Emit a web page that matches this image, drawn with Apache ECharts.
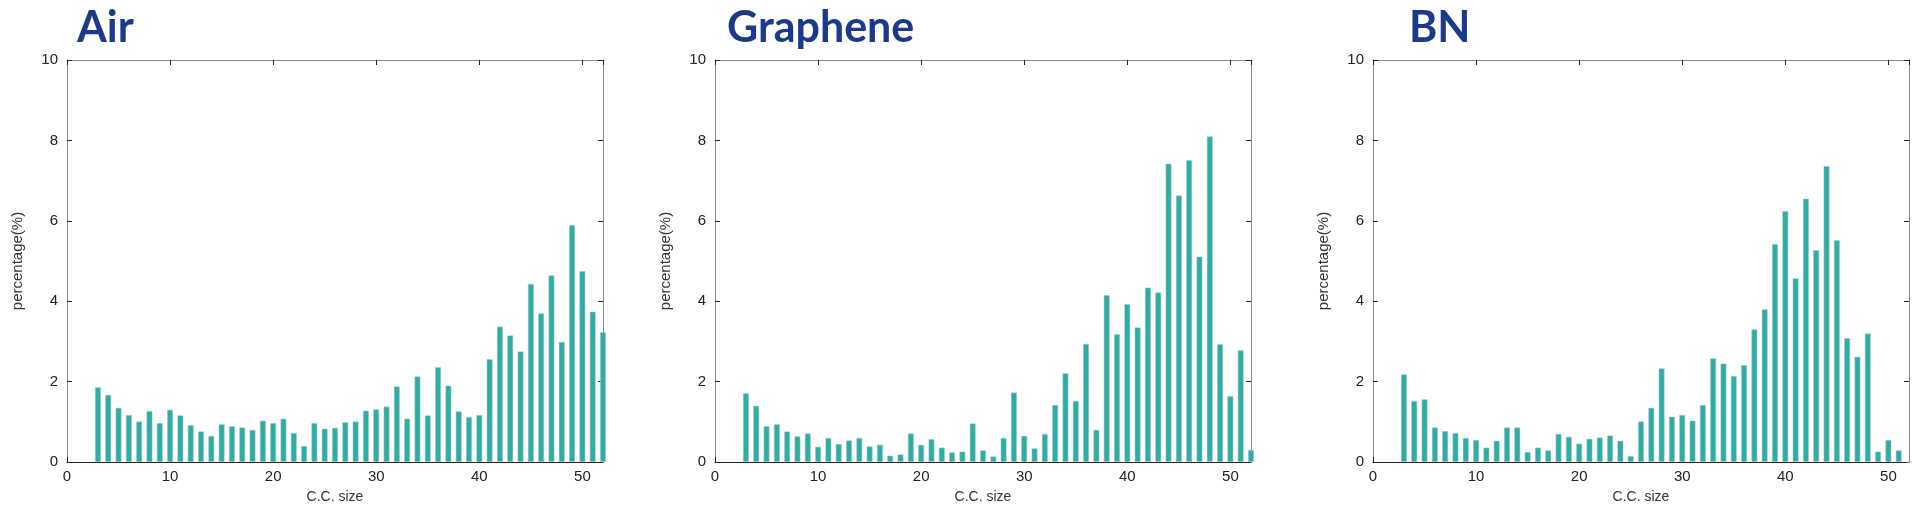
<!DOCTYPE html>
<html>
<head>
<meta charset="utf-8">
<script src="https://cdn.jsdelivr.net/npm/echarts@6/dist/echarts.min.js"></script>
<style>
  html, body { margin: 0; padding: 0; background: #fff; }
  #main { width: 1920px; height: 509px; }
</style>
</head>
<body>
<div id="main"></div>
<script>
// C.C. size categories
var sizes = [3, 4, 5, 6, 7, 8, 9, 10, 11, 12, 13, 14, 15, 16, 17, 18, 19, 20, 21, 22,
  23, 24, 25, 26, 27, 28, 29, 30, 31, 32, 33, 34, 35, 36, 37, 38, 39, 40, 41, 42,
  43, 44, 45, 46, 47, 48, 49, 50, 51, 52];

var airData = [1.86, 1.67, 1.35, 1.17, 1.01, 1.27, 0.97, 1.30, 1.16, 0.92,
  0.76, 0.65, 0.94, 0.89, 0.86, 0.80, 1.03, 0.97, 1.08, 0.72,
  0.40, 0.97, 0.83, 0.85, 0.99, 1.01, 1.28, 1.31, 1.38, 1.88,
  1.08, 2.13, 1.16, 2.36, 1.90, 1.26, 1.12, 1.17, 2.56, 3.37,
  3.15, 2.75, 4.43, 3.70, 4.64, 2.99, 5.89, 4.75, 3.74, 3.23];

var grapheneData = [1.71, 1.40, 0.89, 0.94, 0.76, 0.64, 0.71, 0.38, 0.60, 0.45,
  0.54, 0.60, 0.39, 0.43, 0.16, 0.19, 0.71, 0.43, 0.57, 0.36,
  0.24, 0.26, 0.96, 0.29, 0.14, 0.60, 1.73, 0.65, 0.34, 0.70,
  1.42, 2.21, 1.52, 2.94, 0.80, 4.15, 3.18, 3.93, 3.35, 4.34,
  4.22, 7.42, 6.63, 7.51, 5.11, 8.10, 2.93, 1.64, 2.78, 0.30];

var bnData = [2.18, 1.52, 1.56, 0.86, 0.77, 0.72, 0.60, 0.55, 0.36, 0.53,
  0.86, 0.86, 0.25, 0.36, 0.29, 0.70, 0.63, 0.46, 0.58, 0.61,
  0.66, 0.53, 0.15, 1.01, 1.35, 2.33, 1.13, 1.17, 1.03, 1.42,
  2.58, 2.45, 2.14, 2.41, 3.30, 3.80, 5.42, 6.24, 4.57, 6.55,
  5.27, 7.36, 5.52, 3.08, 2.62, 3.20, 0.26, 0.55, 0.29, 0];

var panelTitles = ['Air', 'Graphene', 'BN'];
var panelData = [airData, grapheneData, bnData];

var myChart = echarts.init(document.getElementById('main'));

var gridLefts = [67, 715, 1373];
var titleLefts = [72, 722, 1404];

var grids = [], xAxes = [], yAxes = [], series = [], titles = [];

for (var i = 0; i < 3; i++) {
    grids.push({ left: gridLefts[i], top: 60, width: 536, height: 406 });

    titles.push({
        text: panelTitles[i],
        left: titleLefts[i],
        top: 2,
        textStyle: {
            fontFamily: 'Lato',
            fontWeight: 'bold',
            fontSize: 43,
            color: '#1c3a8c'
        }
    });

    // bottom axis
    xAxes.push({
        type: 'value',
        gridIndex: i,
        min: 0,
        max: 52,
        interval: 10,
        name: 'C.C. size',
        nameLocation: 'middle',
        nameGap: 28,
        nameTextStyle: { fontFamily: 'Liberation Sans', fontSize: 14, color: '#333' },
        axisLine: { onZero: false, lineStyle: { color: '#222', width: 1.2 } },
        axisTick: { inside: true, length: 5, lineStyle: { color: '#222' } },
        axisLabel: {
            fontFamily: 'Liberation Sans', fontSize: 15, color: '#222', margin: 7,
            showMaxLabel: false,
            formatter: function (v) { return v % 10 === 0 ? v : ''; }
        },
        splitLine: { show: false }
    });
    // top axis (box)
    xAxes.push({
        type: 'value',
        gridIndex: i,
        position: 'top',
        min: 0,
        max: 52,
        interval: 10,
        axisLine: { onZero: false, lineStyle: { color: '#8a8a8a' } },
        axisTick: { inside: true, length: 5, lineStyle: { color: '#222' } },
        axisLabel: { show: false },
        splitLine: { show: false }
    });

    // left axis
    yAxes.push({
        type: 'value',
        gridIndex: i,
        min: 0,
        max: 10,
        interval: 2,
        name: 'percentage(%)',
        nameLocation: 'middle',
        nameGap: 42,
        nameTextStyle: { fontFamily: 'Liberation Sans', fontSize: 15, color: '#333' },
        axisLine: { show: true, onZero: false, lineStyle: { color: '#8a8a8a' } },
        axisTick: { show: true, inside: true, length: 5, lineStyle: { color: '#222' } },
        axisLabel: { fontFamily: 'Liberation Sans', fontSize: 15, color: '#222', margin: 9 },
        splitLine: { show: false }
    });
    // right axis (box)
    yAxes.push({
        type: 'value',
        gridIndex: i,
        position: 'right',
        min: 0,
        max: 10,
        interval: 2,
        axisLine: { show: true, onZero: false, lineStyle: { color: '#8a8a8a' } },
        axisTick: { show: true, inside: true, length: 5, lineStyle: { color: '#222' } },
        axisLabel: { show: false },
        splitLine: { show: false }
    });

    series.push({
        type: 'bar',
        xAxisIndex: i * 2,
        yAxisIndex: i * 2,
        barWidth: 6,
        itemStyle: {
            color: '#2baea4',
            borderColor: 'rgba(175,190,188,0.7)',
            borderWidth: 0.8
        },
        data: sizes.map(function (s, k) { return [s, panelData[i][k]]; })
    });
}

myChart.setOption({
    backgroundColor: '#fff',
    animation: false,
    title: titles,
    grid: grids,
    xAxis: xAxes,
    yAxis: yAxes,
    series: series
});
</script>
</body>
</html>
